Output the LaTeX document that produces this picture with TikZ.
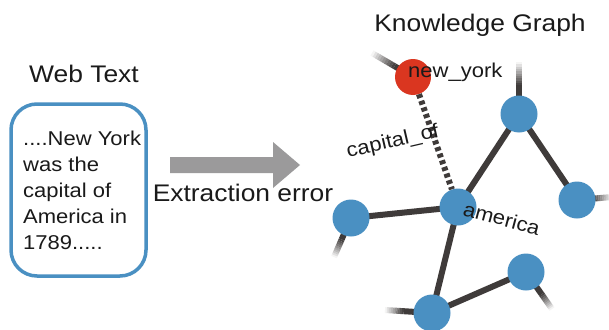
\documentclass[tikz,border=0pt]{standalone}
\usepackage{fontspec}
\setmainfont{Liberation Sans}[FakeStretch=1.1]
\usetikzlibrary{calc}
\definecolor{nodeblue}{HTML}{4A90C2}
\definecolor{nodered}{HTML}{DA3620}
\definecolor{edgegray}{HTML}{3F3B3A}
\definecolor{arrowgray}{HTML}{9B9A9B}
\definecolor{txt}{HTML}{1A1A1A}
\pgfdeclarelayer{bg}
\pgfsetlayers{bg,main}
\begin{document}
\begin{tikzpicture}[x=1pt,y=-1pt,
  title/.style={font=\fontsize{24}{28}\selectfont, text=txt, inner sep=0, anchor=base},
  lbl/.style={font=\fontsize{20}{24}\selectfont, text=txt, inner sep=0, anchor=base west},
  kgnode/.style={circle, fill=nodeblue, minimum size=37, inner sep=0},
  rednode/.style={kgnode, fill=nodered, minimum size=36},
  edge/.style={draw=edgegray, line width=6},
  relation/.style={draw=edgegray, line width=6, dash pattern=on 4 off 3},
  webbox/.style={draw=nodeblue, line width=3.5, rounded corners=26, minimum width=135, minimum height=172, inner sep=0},
  webtxt/.style={font=\fontsize{20}{26}\selectfont, text=txt, align=left, inner sep=0, anchor=west},
  bigarrow/.style={fill=arrowgray}
  ]
\useasboundingbox (0,0) rectangle (609,329);

% titles
\node[title] (t1) at (84,82) {Web Text};
\node[title] (t2) at (480,32) {Knowledge Graph};
\node[title] (t3) at (243,201) {Extraction error};

% web text box
\node[webbox] (box) at (78.5,190) {};
\node[webtxt] (wt) at (23,190) {....New York\\was the\\capital of\\America in\\1789.....};

% arrow
\fill[bigarrow] (170,157) -- (273,157) -- (273,142) -- (300,165) -- (273,188) -- (273,173) -- (170,173) -- cycle;

% graph nodes
\node[rednode] (ny) at (413,77) {};
\node[kgnode] (top) at (519,114) {};
\node[kgnode] (am) at (458,207) {};
\node[kgnode] (left) at (351,218) {};
\node[kgnode] (right) at (577,200) {};
\node[kgnode] (bot) at (432,313) {};
\node[kgnode] (lr) at (526,272) {};

% free ends
\coordinate (e1) at (372,53);
\coordinate (e2) at (519,62);
\coordinate (e3) at (612,197);
\coordinate (e4) at (334,257);
\coordinate (e5) at (385,310);
\coordinate (e6) at (552,309);

\begin{pgfonlayer}{bg}
  \fill[white] (0,0) rectangle (609,329);
  \draw[edge] (top.center) -- (am.center);
  \draw[edge] (top.center) -- (right.center);
  \draw[edge] (left.center) -- (am.center);
  \draw[edge] (am.center) -- (bot.center);
  \draw[edge] (bot.center) -- (lr.center);
  \foreach \n/\e/\s in {ny/e1/0.45, top/e2/0.55, right/e3/0.45, left/e4/0.55, bot/e5/0.6, lr/e6/0.6}{
    \draw[edge] (\n.center) -- ($(\n.center)!\s!(\e)$);
    \foreach \i in {0,...,9}{
      \pgfmathsetmacro{\op}{1-(\i+0.5)/10}
      \pgfmathsetmacro{\aa}{\s+(1-\s)*\i/10}
      \pgfmathsetmacro{\bb}{\s+(1-\s)*(\i+1)/10}
      \draw[edge, draw opacity=\op] ($(\n.center)!\aa!(\e)$) -- ($(\n.center)!\bb!(\e)$);
    }
  }
\end{pgfonlayer}
\draw[relation] (ny) -- (am);

% labels
\node[lbl] (l1) at (408,77) {new\_york};
\node[lbl, rotate=13] (l2) at (348,158) {capital\_of};
\node[lbl, rotate=-15] (l3) at (462,215) {america};
\end{tikzpicture}
\end{document}
